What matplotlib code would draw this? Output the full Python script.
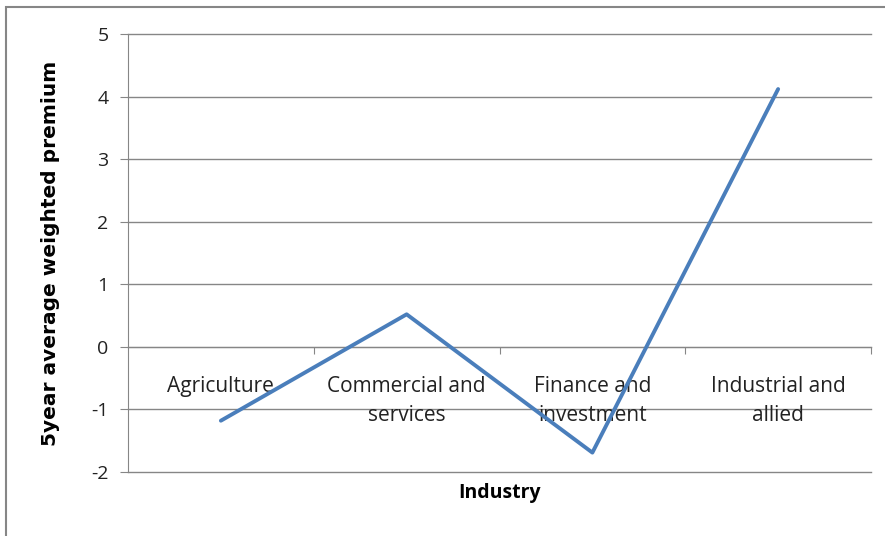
import matplotlib
matplotlib.use("Agg")
import matplotlib.pyplot as plt
from matplotlib.patches import Rectangle

categories = ["Agriculture", "Commercial and\nservices", "Finance and\ninvestment", "Industrial and\nallied"]
values = [-1.18, 0.52, -1.69, 4.12]
yticks = [-2, -1, 0, 1, 2, 3, 4, 5]

plt.rcParams['font.family'] = ['Open Sans', 'DejaVu Sans']

fig = plt.figure(figsize=(8.85, 5.36), dpi=100)
ax = fig.add_axes([128/885, 1-472/536, (871-128)/885, (472-34)/536])

n = len(categories)
xs = list(range(n))
ax.set_xlim(-0.5, n-0.5)
ax.set_ylim(-2, 5)

for y in yticks:
    ax.axhline(y, color='#868686', lw=1.0, zorder=1, clip_on=False)

ax.plot(xs, values, color='#4a7ebb', lw=2.8, zorder=3, solid_capstyle='round')

for s in ['top', 'right']:
    ax.spines[s].set_visible(False)
ax.spines['left'].set_color('#868686')
ax.spines['bottom'].set_position(('data', 0))
ax.spines['bottom'].set_color('#868686')

ax.set_yticks(yticks)
ax.set_yticklabels([str(v) for v in yticks], fontsize=14, color='#222222')
ax.tick_params(axis='y', length=6, color='#868686', pad=8)

ax.set_xticks([i + 0.5 for i in range(n)])
ax.set_xticklabels([])
ax.tick_params(axis='x', which='major', length=5, color='#868686', direction='out')
ax.set_xticks(xs, minor=True)
ax.set_xticklabels(categories, minor=True, fontsize=15, color='#222222', linespacing=1.5)
ax.tick_params(axis='x', which='minor', length=0, pad=21)

ax.set_ylabel("5year average weighted premium", fontsize=14.5, fontweight='bold',
              family=['DejaVu Sans'], labelpad=22)
fig.text(500/885, 1-493/536, "Industry", fontsize=14, fontweight='bold', ha='center', va='center')

fig.patches.append(Rectangle((6/885, -0.1), 1.2, 1 - 7/536 + 0.1, transform=fig.transFigure,
                             fill=False, edgecolor='#868686', lw=1.5))

fig.savefig("out.png", dpi=100)
